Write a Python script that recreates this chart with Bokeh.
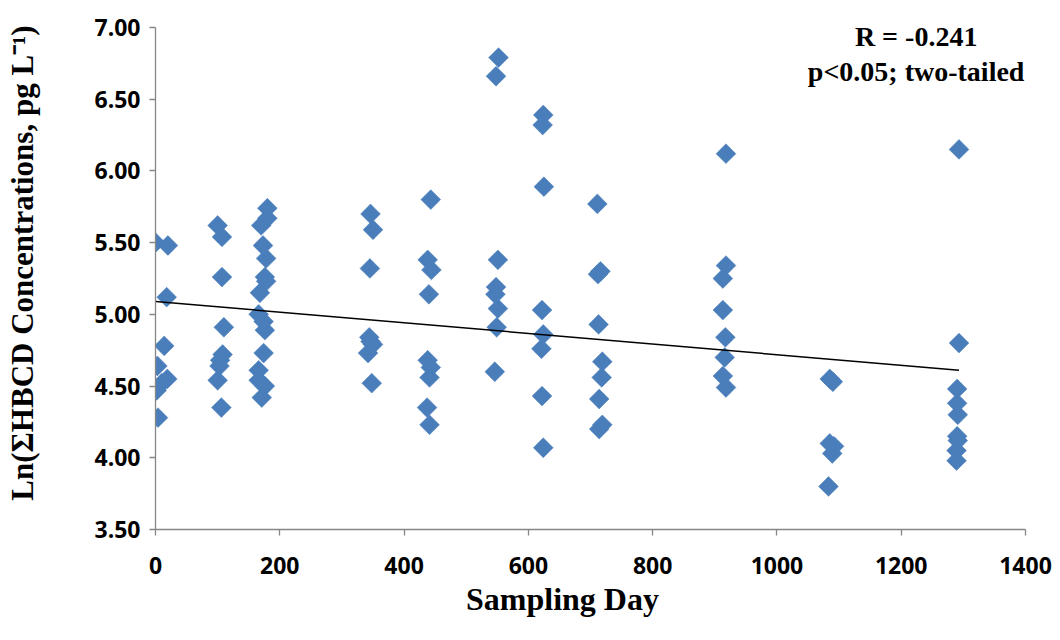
import numpy as np
from bokeh.plotting import figure
from bokeh.models import ColumnDataSource, Label, SingleIntervalTicker, NumeralTickFormatter, Range1d
from bokeh.embed import file_html
from bokeh.resources import INLINE

# Sampling day and Ln(ΣHBCD) values
days = [0, 20, 18, 14, 3, 19, 2, 10, 4,
        100, 107, 107, 110, 108, 104, 103, 100, 106,
        180, 180, 170, 173, 178, 176, 178, 168, 166, 174, 176, 174, 166, 166, 176, 171,
        346, 350, 345, 344, 350, 342, 346, 348,
        443, 438, 444, 440, 438, 443, 441, 437, 441,
        552, 548, 551, 548, 547, 551, 549, 546,
        624, 623, 625, 622, 624, 621, 622, 624,
        711, 716, 712, 713, 719, 718, 714, 719, 714,
        918, 918, 913, 913, 917, 916, 913, 918,
        1085, 1090, 1085, 1092, 1089, 1083,
        1293, 1293, 1290, 1290, 1291, 1290, 1291, 1289, 1289]
ln_conc = [5.50, 5.48, 5.12, 4.78, 4.64, 4.55, 4.47, 4.52, 4.28,
           5.62, 5.54, 5.26, 4.91, 4.72, 4.68, 4.64, 4.54, 4.35,
           5.74, 5.67, 5.62, 5.48, 5.39, 5.26, 5.23, 5.15, 5.00, 4.95, 4.89, 4.73, 4.61, 4.54, 4.50, 4.42,
           5.70, 5.59, 5.32, 4.84, 4.79, 4.73, 4.81, 4.52,
           5.80, 5.38, 5.31, 5.14, 4.68, 4.63, 4.56, 4.35, 4.23,
           6.79, 6.66, 5.38, 5.19, 5.14, 5.04, 4.91, 4.60,
           6.39, 6.32, 5.89, 5.03, 4.86, 4.76, 4.43, 4.07,
           5.77, 5.30, 5.28, 4.93, 4.67, 4.56, 4.41, 4.23, 4.20,
           6.12, 5.34, 5.25, 5.03, 4.84, 4.70, 4.57, 4.49,
           4.55, 4.53, 4.10, 4.08, 4.03, 3.80,
           6.15, 4.80, 4.48, 4.38, 4.30, 4.15, 4.12, 4.05, 3.98]

# Linear trend line
trend_x = [0, 1293]
trend_y = [5.09, 4.61]

annot_lines = ["R = -0.241", "p<0.05; two-tailed"]

SERIF = "Liberation Serif"
SANS = "Open Sans"
AXIS_GRAY = "#868686"
NBSP = "\u00a0"

p = figure(width=1052, height=632, output_backend="svg", toolbar_location=None,
           x_range=Range1d(0, 1400), y_range=Range1d(3.5, 7.0),
           min_border_left=155, min_border_right=27, min_border_top=27, min_border_bottom=103)
p.outline_line_color = None
p.xgrid.grid_line_color = None
p.ygrid.grid_line_color = None
p.background_fill_color = "white"

src = ColumnDataSource(dict(x=days, y=ln_conc))
p.scatter("x", "y", source=src, marker="square", size=14, angle=np.pi / 4,
          fill_color="#4a7ebb", line_color="#4a7ebb", line_width=0.5)

p.line(trend_x, trend_y, line_color="black", line_width=1.5)

for ax in (p.xaxis[0], p.yaxis[0]):
    ax.axis_line_color = AXIS_GRAY
    ax.axis_line_width = 1.3
    ax.major_tick_line_color = AXIS_GRAY
    ax.major_tick_line_width = 1.3
    ax.major_tick_out = 6
    ax.major_tick_in = 0
    ax.minor_tick_line_color = None
    ax.major_label_text_font = SANS
    ax.major_label_text_font_style = "bold"
    ax.major_label_text_font_size = "23px"
    ax.major_label_text_color = "black"
    ax.axis_label_text_font = SERIF
    ax.axis_label_text_font_style = "bold"
    ax.axis_label_text_color = "black"

p.xaxis[0].axis_label_text_font_size = "32px"
p.yaxis[0].axis_label_text_font_size = "31px"
p.xaxis[0].ticker = SingleIntervalTicker(interval=200)
p.yaxis[0].ticker = SingleIntervalTicker(interval=0.5)
p.yaxis[0].formatter = NumeralTickFormatter(format="0.00")
p.xaxis[0].major_label_standoff = 21
p.yaxis[0].major_label_standoff = 9
# trailing / leading no-break spaces shift the labels off-centre as in the reference
p.xaxis[0].axis_label = "Sampling Day" + NBSP * 7
p.yaxis[0].axis_label = NBSP * 4 + "Ln(ΣHBCD Concentrations, pg L⁻¹)"
p.xaxis[0].axis_label_standoff = 4
p.yaxis[0].axis_label_standoff = 51

for i, t in enumerate(annot_lines):
    p.add_layout(Label(x=1224, y=6.94 - i * 0.25, text=t, text_align="center",
                       text_baseline="middle", text_font=SERIF, text_font_style="bold",
                       text_font_size="28px", text_color="black"))

open("out.html", "w").write(file_html(p, INLINE))
